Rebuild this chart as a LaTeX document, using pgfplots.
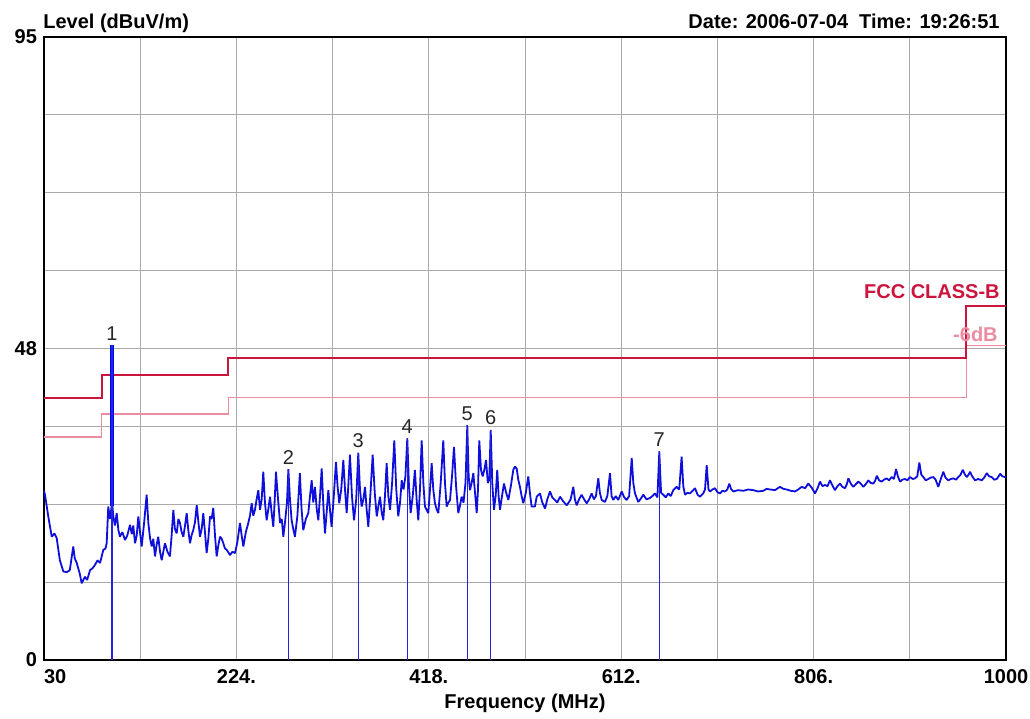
\documentclass[border=0pt]{standalone}
\usepackage{fontspec}
\setmainfont{Liberation Sans}
\usepackage{pgfplots}
\pgfplotsset{compat=1.18}
\definecolor{trace}{RGB}{15,15,220}
\definecolor{mk}{RGB}{35,35,215}
\definecolor{fcc}{RGB}{205,20,60}
\definecolor{fccm}{RGB}{235,140,160}
\definecolor{gridc}{RGB}{170,170,170}
\newcommand{\lbl}{\bfseries\fontsize{10}{12}\selectfont}

\pgfplotstableread{
f db
30 25.8
31 25.2
34.3 21.9
37.8 18.8
40.5 19.3
42.8 18.6
46 15.2
49.5 13.5
53 13.4
56 13.7
59.5 17.3
61 15.5
63 14.8
66 13.2
68 11.7
71.3 12.7
73.5 12.2
76.4 13.7
79 14.0
81.4 14.5
84 15.2
86.5 14.8
88.5 16.0
89.8 16.8
92 17.0
93.2 17.8
94.8 23.4
96.5 21.5
98.5 23.8
98.6 48.0
98.7 24.0
99.9 21.9
101.5 20.5
103.3 22.4
105 19.8
106.6 18.8
109 19.5
111.7 18.3
114 19.0
116.7 20.6
118.5 19.2
120 20.5
121.8 17.8
123.5 19.0
125.1 21.9
126.8 19.5
128.5 17.3
131 21.0
133.5 25.2
135.2 20.9
137 18.5
138.6 17.3
140.2 18.5
141.9 15.8
143.5 17.5
145.2 18.8
147 16.5
148.7 15.2
150.3 16.5
152 17.8
154.5 16.5
157 15.8
158.7 19.0
160.4 22.9
162 20.0
163.8 19.3
165.5 21.5
167.1 20.9
168.8 19.5
170.5 18.8
172.2 20.5
173.9 22.4
175.5 19.8
177.2 17.8
178.8 19.0
180.5 19.8
182.2 21.0
184 23.6
185.7 21.0
187.3 18.8
189 20.0
190.6 22.4
192.3 19.5
194 16.3
195.7 18.5
197.4 21.9
199 21.5
200.7 23.2
202.4 19.0
204.1 15.8
205.8 17.5
207.5 18.8
209.2 18.5
210.8 17.8
212.5 17.0
214.2 16.8
216 16.4
217.5 16.0
220 16.5
222.6 16.3
225 18.0
227.6 20.9
229.3 19.0
231 17.3
233.5 19.5
236 20.9
237.7 22.0
239.4 23.9
241 22.0
242.7 22.9
244.4 24.5
246.1 25.9
247.8 22.9
249.5 24.5
251.1 28.7
252.8 24.0
254.5 21.3
256.2 23.0
257.9 24.9
259.5 22.5
261.2 20.3
262.5 24.0
263.9 28.7
266 24.5
268 20.9
269.7 21.5
271.3 18.8
273 21.0
275 24.0
276.4 29.1
278 24.5
279.7 21.3
281.3 20.0
283 18.8
285.5 22.0
288 28.5
289.7 23.0
291.4 19.8
294 21.5
296.5 22.4
298.2 25.0
299.9 27.4
301.5 24.0
303.2 26.4
305 23.0
306.6 21.3
308.3 25.0
310 29.2
311.7 23.5
313.3 19.3
315 22.5
316.7 25.9
318.3 23.0
320 20.3
322.2 25.0
324.4 30.2
326 26.5
327.7 23.9
329.7 26.0
331.8 30.5
333.5 26.0
335.2 22.4
336.8 26.5
338.5 31.3
340.5 25.0
342.6 21.3
344.8 24.5
346.9 31.6
348.6 26.0
350.3 23.4
352 24.5
353.7 26.4
355.3 23.0
357 20.3
359.2 25.5
361.4 31.3
363.5 25.5
365.5 21.9
367.2 23.5
368.8 24.9
370.5 22.5
372.1 21.3
373.8 25.0
375.5 30.0
377.2 25.0
378.9 22.9
381 27.0
383.2 33.5
385.2 26.0
387.2 21.9
389 24.0
390.7 27.4
392.5 26.0
394.4 28.0
396.3 33.8
398 26.5
399.7 22.4
401.8 25.0
404 29.0
405.7 24.5
407.4 21.3
409.1 26.0
410.8 33.5
412.5 27.0
414.1 23.4
415.8 22.9
417.5 22.4
419.2 26.0
420.9 30.0
422.5 26.0
424.2 23.9
425.9 23.0
427.6 22.4
430 27.0
432.6 33.5
434.3 27.0
436 23.4
437.7 24.0
439.4 24.4
441.4 28.0
443.4 32.5
445.5 26.5
447.7 22.4
449.4 23.5
451.1 24.9
453 24.0
455 27.0
456.8 35.8
458.2 28.0
459.5 25.9
461.2 27.0
462.9 28.5
464.6 25.5
466.3 22.4
467.6 26.0
468.9 33.5
470.6 29.0
472.3 28.0
474 29.0
475.7 30.5
477.5 27.0
479 27.5
480.4 35.1
482 27.0
483.7 22.9
485.4 25.0
487 29.0
488.4 25.0
489.8 22.9
491.8 25.0
493.8 26.9
496 25.5
498.2 24.4
500.7 26.5
503.2 29.0
504.9 29.5
506.6 29.2
508.2 27.5
509.9 26.4
511.6 25.0
513.3 23.9
515.8 25.5
518.3 28.0
520 25.4
521.7 23.4
525 23.4
526.8 24.9
530.1 25.4
532.5 24.0
535.2 23.1
537.5 24.5
540.2 25.7
542.5 24.8
545.2 24.4
547.5 24.0
550.3 24.9
553.5 24.2
557 23.6
559 24.0
561 24.5
563.7 26.4
565.3 24.5
567.1 23.6
569.5 24.5
572.1 25.2
574.6 24.5
577.2 23.9
579.7 24.5
582.2 25.4
584.5 24.5
586.5 25.0
588.9 27.7
590.5 25.5
592.3 24.4
595.6 24.1
598 25.0
600.7 28.5
602.3 25.0
604 24.4
606.5 25.0
609 24.4
612.5 25.7
615 24.8
617.5 24.4
620 25.0
622.6 30.8
624.2 27.0
625.9 25.4
629.2 24.1
631.7 24.6
634.3 25.2
637.5 24.5
641 24.7
643.5 25.0
646 25.4
648.5 24.8
650.4 31.8
652.2 25.5
654.4 25.2
657 24.8
659.4 25.4
662 25.0
664.5 25.9
667.9 26.4
670.5 26.0
672.9 31.0
674.6 26.5
676.3 25.2
678.8 25.5
681.3 25.4
684 25.8
686.4 26.2
689 25.2
691.4 24.9
694.7 25.4
696.5 26.0
698.2 29.7
700 26.0
701.5 25.7
704 26.0
706.5 26.2
709 25.6
711.6 25.4
714 25.8
716.6 25.7
719 26.0
721 26.9
723 26.0
725 25.7
730 25.9
735.1 25.8
740 26.0
745.2 25.9
750 25.7
755.3 25.8
758.5 26.1
762.1 26.0
767 25.9
772 26.4
775.5 26.1
778.8 26.0
783 25.8
787.2 25.7
790.5 26.0
794 26.4
797.5 26.2
800.6 26.9
804 26.3
807.4 25.4
810 26.2
812.4 27.2
815 26.5
817.4 26.7
820 26.5
822.5 27.4
825 26.6
827.5 25.9
830 26.5
832.6 26.9
835 26.4
837.6 26.2
839.5 26.8
841 27.7
843.5 26.9
846 26.4
848.5 26.8
851.1 27.2
853.5 26.9
856.1 26.4
858.5 26.8
861.2 27.4
863.5 27.0
866.2 26.9
868 27.3
869.7 28.1
872 27.4
874.6 27.2
877 27.5
879.7 27.7
882 27.4
884.7 27.9
887 27.6
889.1 29.1
891 28.0
893.1 27.2
895.5 27.5
898.1 27.6
900.5 27.4
903.2 27.9
906 27.6
908.2 27.7
910.5 28.0
912.6 30.1
914.5 28.3
916.6 27.9
919 27.4
921.6 27.6
924 27.8
926.7 27.9
929 27.5
931.7 26.4
934 27.5
936.8 28.7
939 27.8
941.8 27.4
944.5 27.6
946.9 27.7
949.5 27.5
951.9 27.9
954 28.2
956.4 29.0
958.5 28.3
960.4 27.9
962 28.2
963.7 28.7
966 28.0
968.7 27.4
972 27.6
975.5 27.4
978 27.8
980.6 28.5
983 28.0
985.6 27.9
988 27.5
990.7 27.6
992.5 28.0
994 28.4
996.5 28.0
999 27.9
1000 27.9
}\tracedata

\pgfplotstableread{
f db lab
98.6 48.0 1
276.4 29.1 2
346.9 31.6 3
396.3 33.8 4
456.8 35.8 5
480.4 35.1 6
650.4 31.8 7
}\markers

\begin{document}
\begin{tikzpicture}
\begin{axis}[
  scale only axis,
  width=481pt, height=311.5pt,
  xmin=30, xmax=1000, ymin=0, ymax=95,
  xtick={30,127,224,321,418,515,612,709,806,903,1000},
  xticklabels={{\makebox[0pt][l]{30}},,{\mbox{224.}},,{\mbox{418.}},,{\mbox{612.}},,{\mbox{806.}},,{\mbox{1000}}},
  ytick={0,11.875,23.75,35.625,47.5,59.375,71.25,83.125,95},
  yticklabels={{\mbox{0}},,,,{\mbox{48}},,,,{\mbox{95}}},
  grid=major,
  major grid style={gridc, line width=0.5pt},
  major tick length=0pt,
  axis line style={line width=1pt},
  tick label style={font=\lbl},
  xticklabel style={yshift=-1pt},
  /pgf/number format/assume math mode=true,
  xlabel={Frequency (MHz)},
  xlabel style={font=\lbl, at={(axis description cs:0.5,0)}, anchor=base, yshift=-24pt},
  clip=false,
]
\addplot[fccm, line width=0.6pt, const plot] coordinates {(30,34) (88,37.5) (216,40) (960,48) (1000,48)};
\addplot[fcc, line width=1pt, const plot] coordinates {(30,40) (88,43.5) (216,46) (960,54) (1000,54)};
\addplot[trace, line width=0.9pt, line join=bevel] table[x=f, y=db] {\tracedata};
% marker 1 spike is drawn heavier in the original
\addplot[blue, line width=2pt] coordinates {(98.6,23.5) (98.6,48)};
\addplot[mk, line width=0.7pt, ycomb,
  nodes near coords, point meta=explicit symbolic,
  every node near coord/.style={anchor=south, inner sep=2pt, font=\fontsize{10}{12}\selectfont, text=black!85}]
  table[x=f, y=db, meta=lab] {\markers};
\node[anchor=base west, inner sep=0pt, font=\lbl, xshift=-0.5pt, yshift=4.4pt] at (rel axis cs:0,1) {Level (dBuV/m)};
\node[anchor=base east, inner sep=0pt, font=\lbl, xshift=-3pt, yshift=4.4pt] at (rel axis cs:1,1) {Date: 2006-07-04\hspace{0.55em}Time: 19:26:51};
\node[anchor=base east, inner sep=0pt, font=\lbl, text=fcc] at (axis cs:994,55.2) {FCC CLASS-B};
\node[anchor=base east, inner sep=0pt, font=\lbl, text=fccm] at (axis cs:992,48.5) {-6dB};
\end{axis}
\pgfresetboundingbox
\path ([xshift=-22pt,yshift=-29pt]current axis.south west) rectangle ([xshift=12pt,yshift=18.5pt]current axis.north east);
\end{tikzpicture}
\end{document}
